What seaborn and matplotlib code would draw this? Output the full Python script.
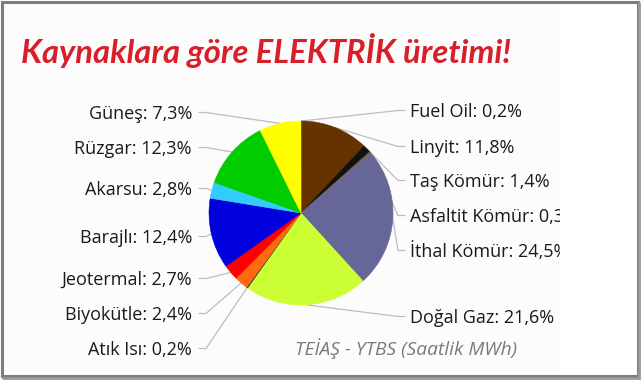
import numpy as np
import pandas as pd
import seaborn as sns
import matplotlib
matplotlib.use("Agg")
import matplotlib.pyplot as plt
from matplotlib.patches import Rectangle
from matplotlib.transforms import Bbox, TransformedBbox

# ---- data ----
sources = ["Fuel Oil", "Linyit", "Taş Kömür", "Asfaltit Kömür", "İthal Kömür",
           "Doğal Gaz", "Atık Isı", "Biyokütle", "Jeotermal", "Barajlı",
           "Akarsu", "Rüzgar", "Güneş"]
shares = [0.2, 11.8, 1.4, 0.3, 24.5, 21.6, 0.2, 2.4, 2.7, 12.4, 2.8, 12.3, 7.3]
share_labels = ["0,2%", "11,8%", "1,4%", "0,3%", "24,5%", "21,6%", "0,2%",
                "2,4%", "2,7%", "12,4%", "2,8%", "12,3%", "7,3%"]
colors = ["#3a2a1a", "#663300", "#111111", "#7a5a30", "#666699", "#ccff33",
          "#333333", "#ff6a10", "#ff0000", "#0000dd", "#33ccff", "#00cc00",
          "#ffff00"]
title = "Kaynaklara göre ELEKTRİK üretimi!"
note = "TEİAŞ - YTBS (Saatlik MWh)"

# ---- layout (pixels) ----
label_baselines = [117, 153, 187, 222, 257, 323, 355, 320, 285, 243, 195, 154, 119]
W, H = 641, 380
cx, cy, R = 301, 213, 92

df = pd.DataFrame({"source": sources, "share": shares, "lab": share_labels,
                   "color": colors, "base": label_baselines})

sns.set_theme(style="white")
plt.rcParams['font.family'] = ['Open Sans', 'DejaVu Sans']

fig = plt.figure(figsize=(W / 100, H / 100), dpi=100)
fig.patch.set_facecolor("white")
ax = fig.add_axes([0, 0, 1, 1])

wedges, _ = ax.pie(df["share"], colors=df["color"], startangle=-90,
                   counterclock=True, center=(cx, cy), radius=R,
                   wedgeprops=dict(linewidth=0.4, edgecolor="#555555"))
for w, c in zip(wedges, df["color"]):
    w.set_edgecolor(c)
ax.set_xlim(0, W)
ax.set_ylim(H, 0)
ax.set_aspect("auto")
ax.axis("off")

# chart area background (slightly off-white) up to x=560
ax.add_patch(Rectangle((4, 4), 556, 368, facecolor="#fcfcfd", edgecolor="none", zorder=-5))

clipbox = TransformedBbox(Bbox([[0, 0], [560, H]]), ax.transData)

total = df["share"].sum()
cum = df["share"].cumsum() - df["share"] / 2
for i, row in df.iterrows():
    th = np.deg2rad(-90 + 360 * cum[i] / total)
    ex, ey = cx + R * np.cos(th), cy + R * np.sin(th)
    yc = row["base"] - 6.5
    txt = f"{row['source']}: {row['lab']}"
    if ex >= cx:
        ax.plot([ex, 398, 405], [ey, yc, yc], color="#bdbdbd", lw=0.9, zorder=0)
        t = ax.text(410, row["base"], txt, ha="left", va="baseline",
                    fontsize=13, color="#1a1a1a")
        t.set_clip_box(clipbox)
        t.set_clip_on(True)
    else:
        ax.plot([ex, 206, 199], [ey, yc, yc], color="#bdbdbd", lw=0.9, zorder=0)
        ax.text(192, row["base"], txt, ha="right", va="baseline",
                fontsize=13, color="#1a1a1a")

tt = ax.text(21, 63, title, ha="left", va="baseline", fontsize=28,
             fontweight="bold", fontstyle="italic", color="#d81e28",
             family=["Lato", "DejaVu Sans"])
nt = ax.text(295, 355, note, ha="left", va="baseline", fontsize=13.5,
             fontstyle="italic", color="#7a7a7a")

# fit title / note widths to the reference
fig.canvas.draw()
r = fig.canvas.get_renderer()
wt = tt.get_window_extent(r).width
tt.set_fontsize(28 * 490 / wt)
wn = nt.get_window_extent(r).width
nt.set_fontsize(13.5 * 222 / wn)

# frame
ax.add_patch(Rectangle((1.5, 1.5), 636, 374, facecolor="none",
                       edgecolor="#7d7d7d", lw=2.2, zorder=10))
ax.plot([639, 639], [3, 378], color="#9a9a9a", lw=2.0, zorder=10)
ax.plot([3, 639], [378, 378], color="#9a9a9a", lw=2.0, zorder=10)

fig.savefig("out.png", dpi=100, facecolor="white")
